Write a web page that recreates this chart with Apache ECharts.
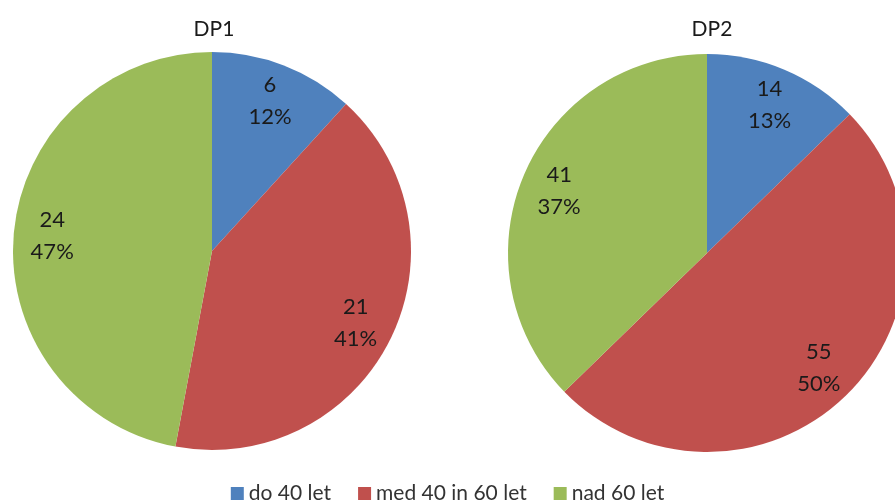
<!DOCTYPE html>
<html>
<head>
<meta charset="utf-8">
<script src="https://cdn.jsdelivr.net/npm/echarts@6/dist/echarts.min.js"></script>
<style>
  html, body { margin: 0; padding: 0; background: #fff; }
  #chart { width: 895px; height: 503px; }
</style>
</head>
<body>
<div id="chart"></div>
<script>
// age groups
const categories = ['do 40 let', 'med 40 in 60 let', 'nad 60 let'];
const titles = ['DP1', 'DP2'];
const dp1Values = [6, 21, 24];
const dp2Values = [14, 55, 41];
const colors = ['#4F81BD', '#C0504D', '#9BBB59'];

const FONT = 'Lato, "Open Sans", sans-serif';

/** build the slices for one pie
 * @param {number[]} values
 */
function slices(values) {
  return categories.map((name, i) => ({
    name,
    value: values[i],
    itemStyle: { color: colors[i] }
  }));
}

/** visible pie + transparent ring that only carries the labels */
function pieSeries(values, center) {
  const total = values.reduce((a, b) => a + b, 0);
  return [
    {
      type: 'pie',
      center,
      radius: 199,
      silent: true,
      label: { show: false },
      labelLine: { show: false },
      data: slices(values)
    },
    {
      type: 'pie',
      center,
      radius: [116, 199],
      silent: true,
      itemStyle: { color: 'transparent' },
      labelLine: { show: false },
      label: {
        show: true,
        position: 'inside',
        color: '#1a1a1a',
        fontFamily: FONT,
        fontSize: 22,
        lineHeight: 32,
        formatter: p => p.value + '\n' + Math.round(p.value / total * 100) + '%'
      },
      data: categories.map((name, i) => ({ name, value: values[i] }))
    }
  ];
}

const chart = echarts.init(document.getElementById('chart'), null, { renderer: 'canvas' });

const titleStyle = { fontFamily: FONT, fontSize: 21, fontWeight: 'normal', color: '#1a1a1a' };

chart.setOption({
  backgroundColor: '#ffffff',
  animation: false,
  title: [
    { text: titles[0], left: 209, top: 14, textAlign: 'center', textStyle: titleStyle },
    { text: titles[1], left: 707, top: 14, textAlign: 'center', textStyle: titleStyle }
  ],
  legend: {
    top: 478,
    left: 'center',
    itemWidth: 13,
    itemHeight: 13,
    itemGap: 27,
    icon: 'rect',
    textStyle: { fontFamily: FONT, fontSize: 21, color: '#333' },
    data: categories.map((name, i) => ({ name, itemStyle: { color: colors[i] } }))
  },
  series: [
    ...pieSeries(dp1Values, [212, 251]),
    ...pieSeries(dp2Values, [707, 253])
  ]
});
</script>
</body>
</html>
